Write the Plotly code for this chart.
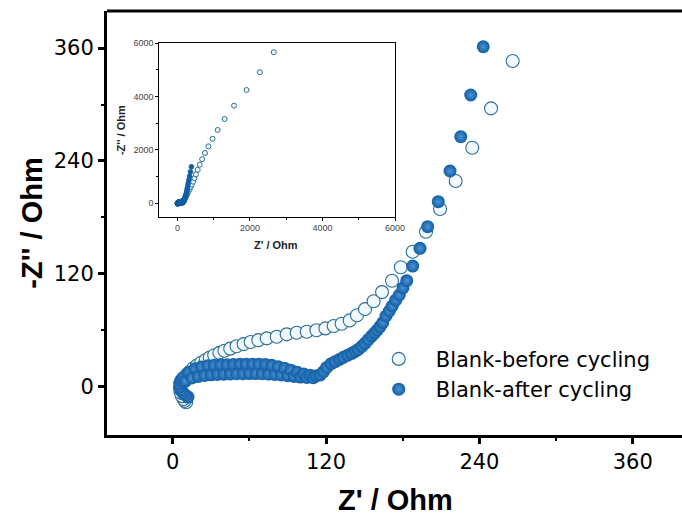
import plotly.graph_objects as go

# Nyquist data, Z' (Ohm) and -Z'' (Ohm)
before_x = [10.5, 9.5, 8.5, 7.3, 6.3, 5.8, 6.2, 7.2, 8.8, 10.8,
            13.2, 16.1, 19.0, 22.3, 25.8, 29.0, 32.5, 36.5, 40.5, 45.0,
            50.0, 55.5, 61.0, 67.0, 73.6, 81.4, 89.2, 97.0, 104.9, 112.5,
            119.5, 126.0, 132.2, 138.5, 144.2, 150.5, 157.2, 163.8, 171.6, 178.5,
            187.8, 198.2, 209.2, 221.4, 234.4, 249.1, 266.0,
            288, 312, 338, 366, 396, 430, 468, 510, 558, 614,
            680, 758, 852, 968, 1110, 1300, 1560, 1905, 2271, 2655]
before_y = [-16.5, -15.0, -13.0, -10.0, -6.5, -2.5, 1.5, 5.5, 9.0, 12.5,
            15.5, 19.6, 22.5, 25.5, 28.4, 31.0, 33.5, 36.0, 38.3, 40.5,
            43.0, 45.3, 47.5, 49.5, 51.4, 53.2, 55.7, 57.4, 58.5, 60.0,
            62.0, 64.5, 67.0, 70.5, 76.0, 82.5, 90.8, 100.6, 112.7, 127.0,
            143.5, 164.8, 188.9, 218.7, 254.1, 295.9, 346.2,
            410, 472, 540, 616, 700, 810, 940, 1085, 1255, 1445,
            1655, 1885, 2135, 2420, 2748, 3161, 3660, 4248, 4912, 5662]

after_x = [12.0, 10.0, 8.0, 6.5, 5.5, 5.5, 6.5, 8.0,
           10.0, 12.5, 15.0, 17.5, 20.0, 22.5, 25.0, 27.5, 30.0, 32.5,
           35.0, 37.5, 40.0, 42.5, 45.0, 47.5, 50.0, 52.5, 55.0, 57.5,
           60.0, 62.5, 65.0, 67.5, 70.0, 72.5, 75.0, 77.5, 80.0, 82.5,
           85.0, 87.5, 90.0, 92.5, 95.0, 97.5, 100.0, 102.5, 105.0, 107.5,
           110.0, 112.5,
           115.5, 118.0, 120.5, 124.0, 127.0, 130.5, 133.5, 137.0, 140.1, 142.8,
           145.2, 148.0, 150.5, 153.0, 155.7, 158.0, 160.1, 162.2, 164.3, 166.9,
           169.5, 171.8, 174.5, 177.3, 180.2, 183.1, 187.8, 193.5, 199.5, 207.8,
           217.0, 225.4, 233.2, 243.0,
           252, 262, 273, 285, 299, 315, 335, 358, 385]
after_y = [-11.0, -9.0, -6.5, -3.5, 0.0, 3.5, 7.0, 9.5,
           6.0, 15.2, 9.4, 19.2, 11.0, 21.1, 12.0, 22.4, 12.7, 22.9,
           13.1, 23.3, 13.4, 23.5, 13.6, 23.7, 13.8, 23.9, 13.9, 24.0,
           14.0, 24.0, 14.0, 23.9, 13.8, 23.7, 13.5, 22.8, 13.1, 21.3,
           12.5, 19.7, 11.8, 17.6, 11.0, 15.4, 10.3, 13.5, 9.8, 12.2,
           9.6, 11.8,
           12.5, 16.0, 20.5, 24.5, 26.6, 29.0, 31.3, 33.5, 35.5, 37.5,
           39.7, 43.0, 46.1, 50.0, 53.9, 57.0, 60.3, 64.0, 68.0, 75.2,
           80.5, 85.8, 92.0, 97.5, 105.0, 112.7, 128.3, 147.1, 170.1, 196.7,
           229.3, 265.8, 310.1, 361.4,
           422, 490, 566, 654, 757, 877, 1018, 1184, 1373]

main_ticks = [0, 120, 240, 360]
inset_ticks = [0, 2000, 4000, 6000]

open_fill = "#f1f9fc"
open_edge = "#2a6d94"
solid = "#0f5ea6"
font_tick = "DejaVu Sans, Liberation Sans, sans-serif"
font_title = "Liberation Sans, Arial, sans-serif"

fig = go.Figure()

fig.add_trace(go.Scatter(
    x=before_x, y=before_y, mode="markers", name="Blank-before cycling",
    marker=dict(symbol="circle", size=13, color=open_fill,
                line=dict(color=open_edge, width=1.1)),
    xaxis="x", yaxis="y"))
fig.add_trace(go.Scatter(
    x=after_x, y=after_y, mode="markers", name="Blank-after cycling",
    marker=dict(symbol="circle", size=13, color=solid,
                gradient=dict(type="radial", color="#4f92cf"),
                line=dict(width=0)),
    xaxis="x", yaxis="y"))

# inset with the full frequency range
fig.add_trace(go.Scatter(
    x=before_x, y=before_y, mode="markers", showlegend=False,
    marker=dict(symbol="circle", size=5, color=open_fill,
                line=dict(color=open_edge, width=1)),
    xaxis="x2", yaxis="y2"))
fig.add_trace(go.Scatter(
    x=after_x, y=after_y, mode="markers", showlegend=False,
    marker=dict(symbol="circle", size=5, color=solid,
                line=dict(color=solid, width=0.5)),
    xaxis="x2", yaxis="y2"))

axis_common = dict(showgrid=False, zeroline=False, showline=True,
                   linecolor="black", linewidth=3, ticks="outside",
                   ticklen=6, tickwidth=3, tickcolor="black", automargin=False,
                   tickfont=dict(family=font_tick, size=21, color="black"),
                   minor=dict(ticks="outside", ticklen=3, tickwidth=2,
                              tickcolor="black", dtick=60))

inset_common = dict(showgrid=False, zeroline=False, showline=True, mirror=True,
                    linecolor="black", linewidth=1, ticks="outside",
                    ticklen=3, tickwidth=1, tickcolor="black", automargin=False,
                    tickfont=dict(family=font_title, size=9, color="#444"),
                    minor=dict(ticks="outside", ticklen=2, tickwidth=1,
                               tickcolor="black", dtick=1000),
                    tickmode="array", tickvals=inset_ticks)

fig.update_layout(
    width=682, height=522,
    margin=dict(l=107, r=0, t=11, b=87, autoexpand=False),
    plot_bgcolor="white", paper_bgcolor="white",
    xaxis=dict(range=[-51.4, 398.5], tickmode="array", tickvals=main_ticks,
               mirror=False, **axis_common),
    yaxis=dict(range=[-51.3, 399.4], tickmode="array", tickvals=main_ticks,
               **axis_common),
    xaxis2=dict(domain=[0.091, 0.501], anchor="y2", range=[-500, 6000],
                **inset_common),
    yaxis2=dict(domain=[0.515, 0.924], anchor="x2", range=[-500, 6000],
                **inset_common),
    legend=dict(x=0.443, y=0.227, xanchor="left", yanchor="top",
                bgcolor="rgba(0,0,0,0)",
                font=dict(family=font_tick, size=21, color="black"),
                itemwidth=64, tracegroupgap=0),
    showlegend=True,
)

# top frame line of the main panel
fig.add_shape(type="line", xref="paper", yref="paper", x0=0, x1=1, y0=1, y1=1,
              line=dict(color="black", width=3))

annotations = [
    dict(text="Z' / Ohm", x=0.501, y=-0.153, xref="paper", yref="paper",
         showarrow=False, xanchor="center", yanchor="middle",
         font=dict(family=font_title, size=29, color="black", weight="bold")),
    dict(text="-Z'' / Ohm", x=-0.131, y=0.5, xref="paper", yref="paper",
         showarrow=False, xanchor="center", yanchor="middle", textangle=-90,
         font=dict(family=font_title, size=29, color="black", weight="bold")),
    dict(text="Z' / Ohm", x=0.294, y=0.448, xref="paper", yref="paper",
         showarrow=False, xanchor="center", yanchor="middle",
         font=dict(family=font_title, size=11, color="#222", weight="bold")),
    dict(text="-Z'' / Ohm", x=0.0243, y=0.719, xref="paper", yref="paper",
         showarrow=False, xanchor="center", yanchor="middle", textangle=-90,
         font=dict(family=font_title, size=11, color="#222", weight="bold")),
]
fig.update_layout(annotations=annotations)

fig.write_html("out.html")
